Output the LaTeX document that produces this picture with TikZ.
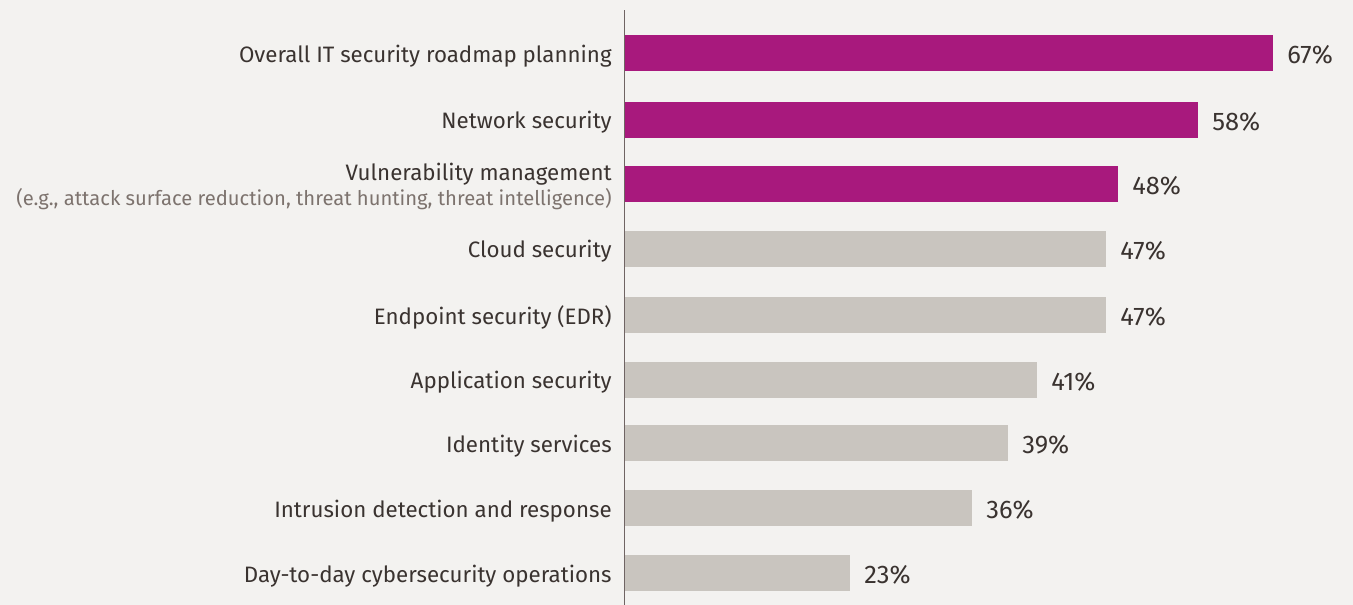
\documentclass[tikz,border=0pt]{standalone}
\usepackage{fontspec}
\setmainfont{Fira Sans}
\usepackage{xcolor}
\definecolor{pagebg}{HTML}{F3F2F0}
\definecolor{txtdark}{HTML}{3A3330}
\definecolor{txtsoft}{HTML}{7D736E}
\definecolor{barhi}{HTML}{A8197D}
\definecolor{barlo}{HTML}{C9C5BF}
\definecolor{axisln}{HTML}{6F6463}

\begin{document}
\begin{tikzpicture}[x=0.02cm,y=-0.02cm,
    lbl/.style={anchor=east, inner sep=0pt, text=txtdark, font=\fontsize{12.7}{14}\selectfont},
    sublbl/.style={anchor=east, inner sep=0pt, text=txtsoft, font=\fontsize{11.5}{13}\selectfont},
    pct/.style={anchor=west, inner sep=0pt, text=txtdark, font=\fontsize{14.5}{16}\selectfont}]
  % Background
  \fill[pagebg] (0,0) rectangle (1353,605);
  \useasboundingbox (0,0) rectangle (1353,605);

  % Bars, values
  \foreach \yc/\xe/\val/\col/\nm in {
      53/1273/67/barhi/a, 119.5/1198/58/barhi/b, 184/1118/48/barhi/c,
      249/1106/47/barlo/d, 315/1106/47/barlo/e, 379.5/1037/41/barlo/f,
      443/1008/39/barlo/g, 508/972/36/barlo/h, 573/850/23/barlo/i}{
    \fill[\col] (625,\yc-18) rectangle (\xe,\yc+18);
    \node[pct] (v\nm) at (\xe+14,\yc+2) {\val\%};
  }

  % Category labels
  \node[lbl] (la) at (612,56) {Overall IT security roadmap planning};
  \node[lbl] (lb) at (612,122) {Network security};
  \node[lbl] (lc) at (612,174) {Vulnerability management};
  \node[sublbl] (lc2) at (612,199) {(e.g., attack surface reduction, threat hunting, threat intelligence)};
  \node[lbl] (ld) at (612,251) {Cloud security};
  \node[lbl] (le) at (612,317) {Endpoint security (EDR)};
  \node[lbl] (lf) at (612,382) {Application security};
  \node[lbl] (lg) at (612,446) {Identity services};
  \node[lbl] (lh) at (612,511) {Intrusion detection and response};
  \node[lbl] (li) at (612,576) {Day-to-day cybersecurity operations};

  % Axis
  \draw[axisln, line width=0.6pt] (624.5,10) -- (624.5,605);
\end{tikzpicture}
\end{document}
